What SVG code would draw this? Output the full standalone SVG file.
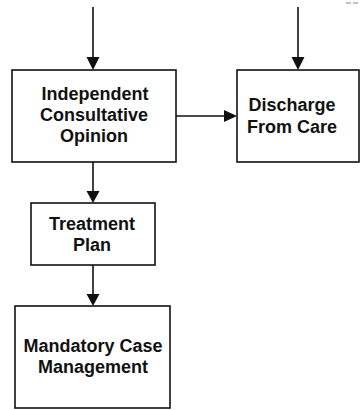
<svg xmlns="http://www.w3.org/2000/svg" width="362" height="410" viewBox="0 0 362 410">
  <style>
    .box { fill: #fff; stroke: #111; stroke-width: 1.6; }
    .lbl { font-family: "Liberation Sans", Arial, sans-serif; font-weight: bold; font-size: 18px; fill: #111; text-anchor: middle; }
    .edge { stroke: #111; stroke-width: 1.6; fill: none; }
    .head { fill: #111; }
  </style>
  <rect width="362" height="410" fill="#fff"/>

  <!-- connectors -->
  <g id="connectors">
    <line class="edge" x1="93" y1="7" x2="93" y2="60"/>
    <polygon class="head" points="86.5,57 99.5,57 93,70"/>
    <line class="edge" x1="298" y1="7" x2="298" y2="60"/>
    <polygon class="head" points="291.5,57 304.5,57 298,70"/>
    <line class="edge" x1="176" y1="116" x2="226" y2="116"/>
    <polygon class="head" points="224,110 224,122 237,116"/>
    <line class="edge" x1="93" y1="162" x2="93" y2="193"/>
    <polygon class="head" points="86.5,191 99.5,191 93,203"/>
    <line class="edge" x1="93" y1="265" x2="93" y2="296"/>
    <polygon class="head" points="86.5,294 99.5,294 93,306"/>
  </g>

  <!-- small dashes at top right corner -->
  <line x1="346" y1="3" x2="351" y2="3" stroke="#888" stroke-width="1"/>
  <line x1="353" y1="3" x2="358" y2="3" stroke="#888" stroke-width="1"/>

  <g id="independent-consultative-opinion">
    <rect class="box" x="12" y="70" width="164" height="92"/>
    <text class="lbl" x="95" y="100">Independent</text>
    <text class="lbl" x="94" y="121">Consultative</text>
    <text class="lbl" x="94" y="142">Opinion</text>
  </g>

  <g id="discharge-from-care">
    <rect class="box" x="237" y="70" width="122" height="92"/>
    <text class="lbl" x="292" y="111">Discharge</text>
    <text class="lbl" x="292" y="133">From Care</text>
  </g>

  <g id="treatment-plan">
    <rect class="box" x="31" y="203" width="124" height="62"/>
    <text class="lbl" x="92" y="230">Treatment</text>
    <text class="lbl" x="92" y="251">Plan</text>
  </g>

  <g id="mandatory-case-management">
    <rect class="box" x="15" y="306" width="155" height="102"/>
    <text class="lbl" x="93" y="352">Mandatory Case</text>
    <text class="lbl" x="93" y="373">Management</text>
  </g>
</svg>
